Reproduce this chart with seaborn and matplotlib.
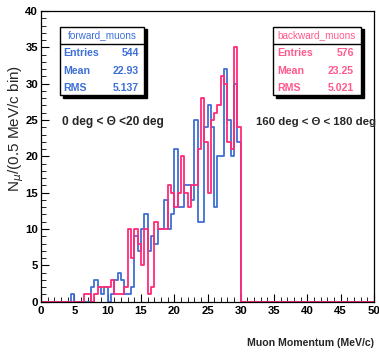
import numpy as np
import pandas as pd
import matplotlib
matplotlib.use("Agg")
import matplotlib.pyplot as plt
from matplotlib.patches import Rectangle
import seaborn as sns

# ---- data (0.5 MeV/c bins, left edges from 4.5 to 29.5) ----
bin_width = 0.5
first_edge = 4.5
forward_counts = [1, 0, 0, 0, 0, 0, 2, 3, 2, 1, 2, 0, 1, 3, 4, 3, 1, 1, 2,
                  9, 7, 10, 12, 7, 9, 8, 10, 10, 14, 10, 12, 21, 13, 13, 16,
                  16, 14, 25, 11, 11, 24, 27, 24, 13, 20, 20, 32, 25, 20, 30, 22]
backward_counts = [0, 0, 0, 0, 1, 1, 0, 1, 2, 2, 2, 2, 3, 1, 1, 1, 2,
                   10, 6, 10, 8, 5, 10, 1, 2, 11, 10, 10, 10, 16, 15, 13, 15,
                   20, 15, 13, 16, 16, 21, 28, 22, 15, 25, 26, 27, 31, 30, 22,
                   21, 35, 24]
if len(backward_counts) < len(forward_counts):
    backward_counts = [0] * (len(forward_counts) - len(backward_counts)) + backward_counts

stats_forward = {"name": "forward_muons", "Entries": "544", "Mean": "22.93", "RMS": "5.137"}
stats_backward = {"name": "backward_muons", "Entries": "576", "Mean": "23.25", "RMS": "5.021"}
x_ticks = [0, 5, 10, 15, 20, 25, 30, 35, 40, 45, 50]
y_ticks = [0, 5, 10, 15, 20, 25, 30, 35, 40]

centers = first_edge + bin_width / 2 + bin_width * np.arange(len(forward_counts))
df_f = pd.DataFrame({"p": centers, "n": np.asarray(forward_counts, dtype=float)})
df_b = pd.DataFrame({"p": centers, "n": np.asarray(backward_counts, dtype=float)})

sns.set_style("ticks")
plt.rcParams["font.family"] = ["Liberation Sans", "DejaVu Sans"]

W, H = 379, 352
fig = plt.figure(figsize=(W / 100, H / 100), dpi=100)
fig.patch.set_facecolor("white")

def fx(px):
    return px / W

def fy(py):
    return 1 - py / H

ax_l, ax_r, ax_t, ax_b = 41, 374, 11, 301.7
ax = fig.add_axes([fx(ax_l), fy(ax_b), (ax_r - ax_l) / W, (ax_b - ax_t) / H])
ax.set_facecolor("white")

blue = "#3f6fd6"
pink = "#ff2a78"
nbins = int(round(50 / bin_width))

sns.histplot(data=df_f, x="p", weights="n", bins=nbins, binrange=(0, 50),
             element="step", fill=False, color=blue, linewidth=1.3, ax=ax)
sns.histplot(data=df_b, x="p", weights="n", bins=nbins, binrange=(0, 50),
             element="step", fill=False, color=pink, linewidth=1.3, ax=ax)

ax.set_xlim(0, 50)
ax.set_ylim(0, 40)
ax.set_xticks(x_ticks)
ax.set_yticks(y_ticks)
ax.set_xticks(np.arange(0, 51, 1), minor=True)
ax.set_yticks(np.arange(0, 41, 1), minor=True)
ax.tick_params(which="both", direction="in", top=False, right=False, colors="black")
ax.tick_params(which="major", length=6, width=0.8, labelsize=8.2, pad=3)
ax.tick_params(which="minor", length=3.5, width=0.6)
ax.tick_params(axis="y", which="major", pad=2)
for lab in ax.get_xticklabels() + ax.get_yticklabels():
    lab.set_fontweight("bold")
ax.set_xlabel("")
ax.set_ylabel("")
for s in ax.spines.values():
    s.set_visible(True)
    s.set_linewidth(0.9)
    s.set_color("black")

# axis titles
fig.text(fx(374), fy(343), "Muon Momentum (MeV/c)", ha="right", va="center",
         fontsize=7.6, fontweight="bold")
fig.text(fx(16), fy(128), r"N$_{\mu}$/(0.5 MeV/c bin)", ha="center", va="center",
         rotation=90, fontsize=11)

# angle annotations
fig.text(fx(62), fy(122), "0 deg < Θ <20 deg", ha="left", va="center",
         fontsize=8.6, fontweight="bold")
fig.text(fx(256), fy(122), "160 deg < Θ < 180 deg", ha="left", va="center",
         fontsize=8.2, fontweight="bold")

# stats boxes
def stats_box(x0, x1, y0, y1, st, color, lab_x, val_x):
    sh = 2.5
    fig.patches.append(Rectangle((fx(x0 + sh), fy(y1 + sh)), (x1 - x0) / W, (y1 - y0) / H,
                                 transform=fig.transFigure, facecolor="black",
                                 edgecolor="black", zorder=5))
    fig.patches.append(Rectangle((fx(x0), fy(y1)), (x1 - x0) / W, (y1 - y0) / H,
                                 transform=fig.transFigure, facecolor="white",
                                 edgecolor="black", linewidth=1.0, zorder=6))
    sep = y0 + 16.5
    fig.add_artist(plt.Line2D([fx(x0), fx(x1)], [fy(sep), fy(sep)],
                              transform=fig.transFigure, color="black", linewidth=1.0, zorder=7))
    fig.text(fx((x0 + x1) / 2), fy(y0 + 8.5), st["name"], ha="center", va="center",
             fontsize=7.2, color=color, zorder=8)
    rows = [("Entries", st["Entries"]), ("Mean", st["Mean"]), ("RMS", st["RMS"])]
    for i, (k, v) in enumerate(rows):
        yy = 53 + i * 17.5
        fig.text(fx(lab_x), fy(yy), k, ha="left", va="center", fontsize=7.6,
                 fontweight="bold", color=color, zorder=8)
        fig.text(fx(val_x), fy(yy), v, ha="right", va="center", fontsize=7.6,
                 fontweight="bold", color=color, zorder=8)

stats_box(60, 144, 27, 95, stats_forward, "#3c6fd8", 63, 139)
stats_box(273, 361, 27, 95, stats_backward, "#ff5a8c", 277, 354)

fig.savefig("out.png", dpi=100, facecolor="white")
